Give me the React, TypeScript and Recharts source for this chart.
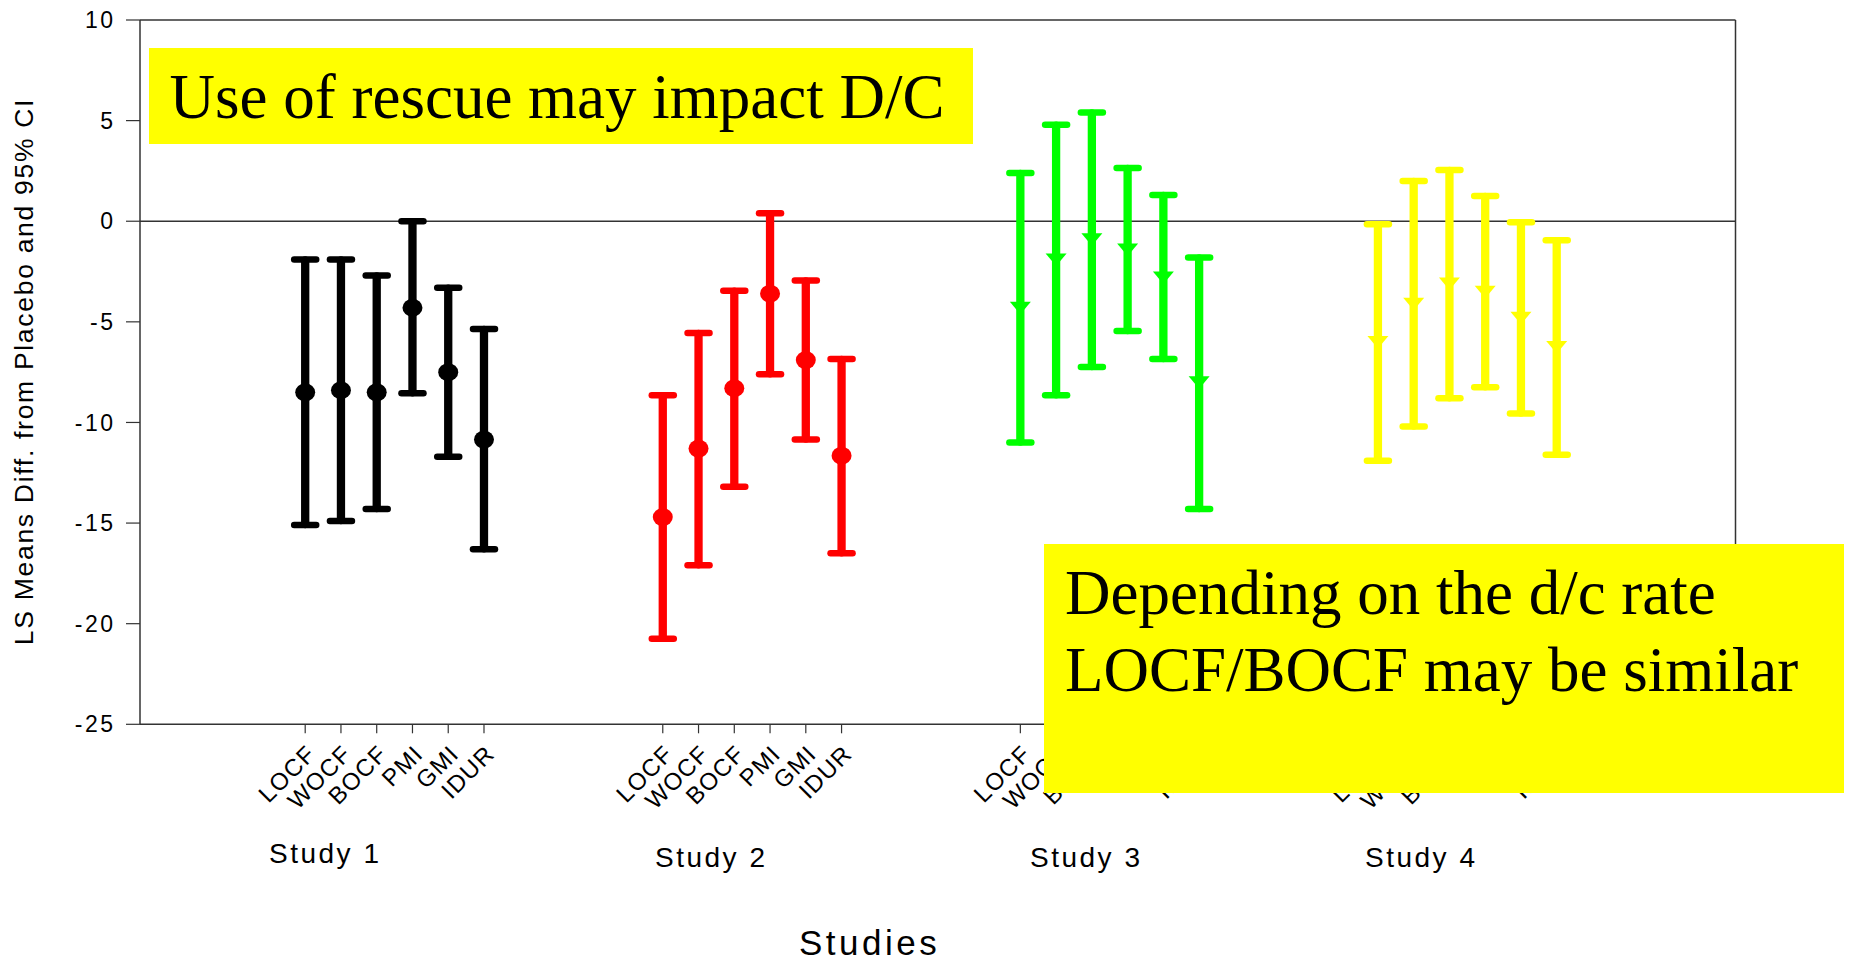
import React from 'react';
import { ScatterChart, Scatter, XAxis, YAxis, ErrorBar, ReferenceLine } from 'recharts';

const methods = ['LOCF', 'WOCF', 'BOCF', 'PMI', 'GMI', 'IDUR'];
const studyNames = ['Study 1', 'Study 2', 'Study 3', 'Study 4'];
const studyColors = ['#000000', '#ff0000', '#00ff00', '#ffff00'];

// LS mean difference from placebo with lower / upper 95% CI, one value per method
const study1Mean = [-8.5, -8.4, -8.5, -4.3, -7.5, -10.85];
const study1Low = [-15.1, -14.9, -14.3, -8.55, -11.7, -16.3];
const study1High = [-1.9, -1.9, -2.7, 0.0, -3.3, -5.35];

const study2Mean = [-14.7, -11.3, -8.3, -3.6, -6.9, -11.65];
const study2Low = [-20.75, -17.1, -13.2, -7.6, -10.85, -16.5];
const study2High = [-8.65, -5.55, -3.45, 0.4, -2.95, -6.85];

const study3Mean = [-4.3, -1.9, -0.9, -1.4, -2.8, -8.0];
const study3Low = [-11.0, -8.65, -7.25, -5.45, -6.85, -14.3];
const study3High = [2.4, 4.8, 5.4, 2.65, 1.3, -1.8];

const study4Mean = [-6.0, -4.1, -3.1, -3.5, -4.8, -6.25];
const study4Low = [-11.9, -10.2, -8.8, -8.25, -9.55, -11.6];
const study4High = [-0.15, 2.0, 2.55, 1.25, -0.05, -0.95];

const yTicks = [-25, -20, -15, -10, -5, 0, 5, 10];

// each study takes a block of 10 slots on the x axis, methods sit in the first 6
const buildSeries = (mean: number[], low: number[], high: number[], study: number) =>
  mean.map((m, i) => ({
    x: study * 10 + i,
    method: methods[i],
    mean: m,
    ci: [m - low[i], high[i] - m],
  }));

const series = [
  buildSeries(study1Mean, study1Low, study1High, 0),
  buildSeries(study2Mean, study2Low, study2High, 1),
  buildSeries(study3Mean, study3Low, study3High, 2),
  buildSeries(study4Mean, study4Low, study4High, 3),
];

const xTicks = series.flat().map((d) => d.x);

const SANS = '"Liberation Sans", Arial, sans-serif';
const SERIF = '"Liberation Serif", "Times New Roman", serif';
const AXIS = '#333333';

const makeDot = (color: string) => (props: any) => (
  <ellipse cx={props.cx} cy={props.cy} rx={10} ry={9} fill={color} />
);

const makeTriangle = (color: string) => (props: any) => {
  const { cx, cy } = props;
  return (
    <polygon
      points={`${cx - 10.5},${cy - 6} ${cx + 10.5},${cy - 6} ${cx},${cy + 6.5}`}
      fill={color}
    />
  );
};

const noteStyle: React.CSSProperties = {
  position: 'absolute',
  background: '#ffff00',
  fontFamily: SERIF,
  fontSize: 63,
  lineHeight: '76.7px',
  color: '#000',
  boxSizing: 'border-box',
  paddingLeft: 21,
  paddingTop: 11.2,
  whiteSpace: 'nowrap',
};

const App: React.FC = () => {
  return (
    <div style={{ position: 'absolute', left: 0, top: 0, width: 1853, height: 964, background: '#fff' }}>
      <ScatterChart
        width={1853}
        height={964}
        margin={{ top: 20, right: 117.5, bottom: 139.7, left: 0 }}
      >
        <XAxis
          type="number"
          dataKey="x"
          domain={[-4.62, 40]}
          ticks={xTicks}
          interval={0}
          allowDataOverflow
          tickFormatter={(v: number) => methods[v % 10]}
          height={100}
          tickSize={9}
          tickMargin={10}
          angle={-45}
          textAnchor="end"
          axisLine={{ stroke: AXIS, strokeWidth: 1.5 }}
          tickLine={{ stroke: AXIS, strokeWidth: 1.2 }}
          tick={{ fontSize: 24, fill: '#000', fontFamily: SANS, letterSpacing: 1.2 }}
        />
        <YAxis
          type="number"
          dataKey="mean"
          domain={[-25, 10]}
          ticks={yTicks}
          interval={0}
          allowDataOverflow
          width={140}
          tickSize={14}
          tickMargin={10.5}
          axisLine={{ stroke: AXIS, strokeWidth: 1.5 }}
          tickLine={{ stroke: AXIS, strokeWidth: 1.2 }}
          tick={{ fontSize: 23, fill: '#000', fontFamily: SANS, letterSpacing: 2.5 }}
        />
        <ReferenceLine y={0} stroke={AXIS} strokeWidth={1.5} />
        <ReferenceLine y={10} stroke={AXIS} strokeWidth={1.5} />
        <ReferenceLine x={40} stroke={AXIS} strokeWidth={1.5} />
        {series.map((data, s) => (
          <Scatter
            key={studyNames[s]}
            name={studyNames[s]}
            data={data}
            fill={studyColors[s]}
            isAnimationActive={false}
            shape={s < 2 ? makeDot(studyColors[s]) : makeTriangle(studyColors[s])}
          >
            <ErrorBar
              dataKey="ci"
              direction="y"
              width={11}
              stroke={studyColors[s]}
              strokeWidth={6.5}
              strokeLinecap="round"
              isAnimationActive={false}
            />
            <ErrorBar
              dataKey="ci"
              direction="y"
              width={0}
              stroke={studyColors[s]}
              strokeWidth={8.3}
              strokeLinecap="butt"
              isAnimationActive={false}
            />
          </Scatter>
        ))}
      </ScatterChart>

      <svg
        width={1853}
        height={964}
        style={{ position: 'absolute', left: 0, top: 0, pointerEvents: 'none' }}
      >
        <text
          transform="translate(33, 371.5) rotate(-90)"
          textAnchor="middle"
          fontFamily={SANS}
          fontSize={26.5}
          letterSpacing={1.7}
          fill="#000"
        >
          LS Means Diff. from Placebo and 95% CI
        </text>
        {studyNames.map((name, i) => (
          <text
            key={name}
            x={[269, 655, 1030, 1365][i]}
            y={i === 0 ? 862.7 : 866.7}
            fontFamily={SANS}
            fontSize={28}
            letterSpacing={2.5}
            fill="#000"
          >
            {name}
          </text>
        ))}
        <text x={799} y={955} fontFamily={SANS} fontSize={35} letterSpacing={3.5} fill="#000">
          Studies
        </text>
      </svg>

      <div style={{ ...noteStyle, left: 148.5, top: 48.3, width: 824, height: 95.7 }}>
        Use of rescue may impact D/C
      </div>
      <div style={{ ...noteStyle, left: 1044, top: 544, width: 800, height: 249 }}>
        Depending on the d/c rate
        <br />
        LOCF/BOCF may be similar
      </div>
    </div>
  );
};

export default App;
